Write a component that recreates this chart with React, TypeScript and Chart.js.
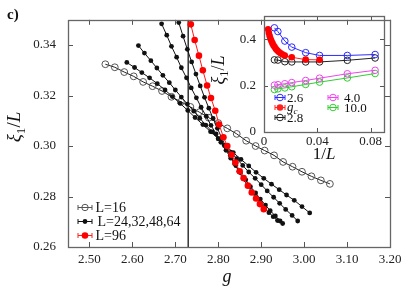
import React, { useEffect, useRef } from "react";
import { Chart, registerables } from "chart.js";
Chart.register(...registerables);

const FONT = '"Liberation Serif", "DejaVu Serif", serif';

// ---- main panel data ----
const G_C = 2.73;
const L16_G = [2.537, 2.559, 2.581, 2.603, 2.625, 2.647, 2.669, 2.691, 2.713, 2.735, 2.756, 2.778, 2.800, 2.821, 2.843, 2.865, 2.887, 2.908, 2.930, 2.951, 2.973, 2.995, 3.017, 3.039, 3.060];
const L16_Y = [0.3324, 0.3312, 0.3293, 0.3276, 0.3254, 0.3237, 0.3218, 0.3195, 0.3175, 0.3155, 0.3134, 0.3112, 0.3091, 0.3070, 0.3048, 0.3021, 0.3000, 0.2982, 0.2963, 0.2937, 0.2918, 0.2898, 0.2880, 0.2864, 0.2850];

const L24_G = [2.587, 2.605, 2.622, 2.640, 2.658, 2.676, 2.693, 2.711, 2.729, 2.746, 2.764, 2.782, 2.800, 2.817, 2.835, 2.853, 2.871, 2.888, 2.906, 2.924, 2.942, 2.959, 2.977, 2.995, 3.013];
const L24_Y = [0.3331, 0.3311, 0.3291, 0.3270, 0.3247, 0.3222, 0.3196, 0.3169, 0.3141, 0.3113, 0.3085, 0.3057, 0.3029, 0.3001, 0.2974, 0.2947, 0.2921, 0.2896, 0.2872, 0.2849, 0.2827, 0.2806, 0.2785, 0.2760, 0.2735];

const L32_G = [2.614, 2.628, 2.643, 2.657, 2.671, 2.686, 2.700, 2.714, 2.728, 2.743, 2.757, 2.771, 2.786, 2.800, 2.814, 2.829, 2.843, 2.857, 2.871, 2.886, 2.900, 2.914, 2.929, 2.943, 2.957, 2.972, 2.985];
const L32_Y = [0.3398, 0.3368, 0.3338, 0.3309, 0.3280, 0.3251, 0.3222, 0.3194, 0.3166, 0.3138, 0.3110, 0.3083, 0.3056, 0.3029, 0.3002, 0.2976, 0.2950, 0.2923, 0.2897, 0.2872, 0.2847, 0.2822, 0.2797, 0.2773, 0.2749, 0.2725, 0.2703];

const L48_G = [2.668, 2.680, 2.691, 2.703, 2.714, 2.726, 2.737, 2.749, 2.760, 2.772, 2.783, 2.795, 2.806, 2.818, 2.829, 2.841, 2.852, 2.864, 2.875, 2.887, 2.898, 2.910, 2.921, 2.933, 2.944, 2.950];
const L48_Y = [0.3484, 0.3439, 0.3395, 0.3352, 0.3310, 0.3270, 0.3230, 0.3191, 0.3154, 0.3118, 0.3082, 0.3048, 0.3015, 0.2983, 0.2952, 0.2922, 0.2894, 0.2866, 0.2839, 0.2814, 0.2790, 0.2766, 0.2744, 0.2723, 0.2703, 0.2693];

const L64_G = [2.708, 2.718, 2.728, 2.738, 2.748, 2.758, 2.768, 2.778, 2.788, 2.798, 2.808, 2.818, 2.828, 2.838, 2.848, 2.858, 2.868, 2.878, 2.888, 2.898, 2.908, 2.918, 2.928, 2.938];
const L64_Y = [0.3489, 0.3435, 0.3383, 0.3333, 0.3285, 0.3238, 0.3193, 0.3150, 0.3109, 0.3070, 0.3032, 0.2996, 0.2962, 0.2930, 0.2899, 0.2871, 0.2844, 0.2818, 0.2795, 0.2774, 0.2754, 0.2736, 0.2720, 0.2705];

const L96_G = [2.736, 2.745, 2.755, 2.764, 2.774, 2.783, 2.793, 2.802, 2.812, 2.821, 2.831, 2.840, 2.850, 2.859, 2.869, 2.878, 2.888, 2.897, 2.906];
const L96_Y = [0.3482, 0.3420, 0.3358, 0.3300, 0.3240, 0.3190, 0.3140, 0.3085, 0.3035, 0.3000, 0.2965, 0.2935, 0.2900, 0.2873, 0.2843, 0.2816, 0.2792, 0.2770, 0.2750];

// ---- inset data ----
const INSET_L = [128, 96, 64, 48, 32, 24, 16, 12];
const IN_26 = [0.449, 0.433, 0.392, 0.366, 0.342, 0.330, 0.330, 0.334];
const IN_28 = [0.311, 0.310, 0.303, 0.302, 0.302, 0.302, 0.309, 0.319];
const IN_40 = [0.202, 0.204, 0.208, 0.213, 0.222, 0.232, 0.251, 0.266];
const IN_100 = [0.183, 0.186, 0.190, 0.195, 0.205, 0.215, 0.233, 0.252];
const GC_X = [0.0031, 0.0036, 0.0042, 0.0048, 0.0055, 0.0063, 0.0071, 0.0080, 0.0090, 0.0100, 0.0112, 0.0125, 0.0140, 0.0156, 0.0208, 0.03125, 0.0417];
const GC_Y = [0.443, 0.428, 0.415, 0.403, 0.393, 0.383, 0.374, 0.366, 0.358, 0.351, 0.345, 0.339, 0.334, 0.330, 0.322, 0.312, 0.311];

const zip = (xs: number[], ys: number[]) => xs.map((x, i) => ({ x, y: ys[i] }));

type Part = { t: string; it?: boolean; sub?: boolean; bold?: boolean };
function drawRich(ctx: CanvasRenderingContext2D, parts: Part[], size: number, cx: number, cy: number, angle = 0, align: "center" | "left" = "center") {
  ctx.save();
  ctx.translate(cx, cy);
  ctx.rotate(angle);
  ctx.textBaseline = "alphabetic";
  ctx.textAlign = "left";
  ctx.fillStyle = "#111";
  const fontOf = (p: Part) => `${p.it ? "italic " : ""}${p.bold ? "bold " : ""}${p.sub ? size * 0.7 : size}px ${FONT}`;
  let total = 0;
  const ws = parts.map((p) => { ctx.font = fontOf(p); const w = ctx.measureText(p.t).width; total += w; return w; });
  let x = align === "center" ? -total / 2 : 0;
  const base = size * 0.33;
  parts.forEach((p, i) => {
    ctx.font = fontOf(p);
    ctx.fillText(p.t, x, base + (p.sub ? size * 0.25 : 0));
    x += ws[i];
  });
  ctx.restore();
}

function frameAndTicks(chart: any, len: number) {
  const ctx: CanvasRenderingContext2D = chart.ctx;
  const { left, right, top, bottom } = chart.chartArea;
  ctx.save();
  ctx.strokeStyle = "#555";
  ctx.lineWidth = 1;
  const xs = chart.scales.x, ys = chart.scales.y;
  ctx.beginPath();
  xs.ticks.forEach((t: any) => {
    const p = Math.round(xs.getPixelForValue(t.value)) + 0.5;
    ctx.moveTo(p, bottom); ctx.lineTo(p, bottom - len);
    ctx.moveTo(p, top); ctx.lineTo(p, top + len);
  });
  ys.ticks.forEach((t: any) => {
    const p = Math.round(ys.getPixelForValue(t.value)) + 0.5;
    ctx.moveTo(left, p); ctx.lineTo(left + len, p);
    ctx.moveTo(right, p); ctx.lineTo(right - len, p);
  });
  ctx.stroke();
  ctx.lineWidth = 1.3;
  ctx.strokeStyle = "#666";
  ctx.strokeRect(Math.round(left) + 0.5, Math.round(top) + 0.5, Math.round(right - left), Math.round(bottom - top));
  ctx.restore();
}

function legendGlyph(ctx: CanvasRenderingContext2D, x0: number, x1: number, y: number, color: string, style: "open" | "filled", r: number, markerColor?: string) {
  ctx.save();
  ctx.strokeStyle = color;
  ctx.lineWidth = 1;
  ctx.beginPath();
  ctx.moveTo(x0, y); ctx.lineTo(x1, y);
  ctx.moveTo(x0, y - 2.5); ctx.lineTo(x0, y + 2.5);
  ctx.moveTo(x1, y - 2.5); ctx.lineTo(x1, y + 2.5);
  ctx.stroke();
  ctx.beginPath();
  ctx.arc((x0 + x1) / 2, y, r, 0, Math.PI * 2);
  if (style === "filled") { ctx.fillStyle = markerColor || color; ctx.fill(); }
  else { ctx.strokeStyle = markerColor || color; ctx.stroke(); }
  ctx.restore();
}

const mainPlugin = {
  id: "mainDeco",
  afterDraw(chart: any) {
    frameAndTicks(chart, 5);
    const ctx: CanvasRenderingContext2D = chart.ctx;
    const rows: [string, string, "open" | "filled", number, string][] = [
      ["L=16", "#555", "open", 3.2, "#555"],
      ["L=24,32,48,64", "#111", "filled", 2.4, "#111"],
      ["L=96", "#ff2020", "filled", 3.3, "#ff0000"],
    ];
    const ys = [207.5, 221.5, 235.5];
    rows.forEach((r, i) => {
      legendGlyph(ctx, 78, 92, ys[i], r[1], r[2], r[3], r[4]);
      ctx.save();
      ctx.font = `14px ${FONT}`;
      ctx.fillStyle = "#111";
      ctx.textBaseline = "middle";
      ctx.fillText(r[0], i === 1 ? 97.5 : 95.5, ys[i] + 0.5);
      ctx.restore();
    });
    drawRich(ctx, [{ t: "ξ", it: true }, { t: "1", sub: true }, { t: "/" }, { t: "L", it: true }], 19, 14, 127, -Math.PI / 2);
    drawRich(ctx, [{ t: "g", it: true }], 18, 227, 276);
    drawRich(ctx, [{ t: "c)", bold: true }], 15, 7, 14, 0, "left");
  },
};

const insetPlugin = {
  id: "insetDeco",
  afterDraw(chart: any) {
    frameAndTicks(chart, 4);
    const ctx: CanvasRenderingContext2D = chart.ctx;
    const ox = 200;
    const left: [string, string, "open" | "filled", boolean][] = [
      ["2.6", "#2b2bff", "open", false],
      ["g", "#ff2020", "filled", true],
      ["2.8", "#222", "open", false],
    ];
    const ys = [97.5, 107.5, 117.5];
    left.forEach((r, i) => {
      legendGlyph(ctx, 275 - ox, 285 - ox, ys[i], r[1], r[2], 3.3);
      if (r[3]) drawRich(ctx, [{ t: "g", it: true }, { t: "c", it: true, sub: true }], 13, 287 - ox, ys[i] - 1, 0, "left");
      else drawRich(ctx, [{ t: r[0] }], 13, 287 - ox, ys[i], 0, "left");
    });
    const right: [string, string][] = [["4.0", "#ee44ee"], ["10.0", "#33cc33"]];
    right.forEach((r, i) => {
      legendGlyph(ctx, 328 - ox, 338 - ox, ys[i], r[1], "open", 3.3);
      drawRich(ctx, [{ t: r[0] }], 13, 344 - ox, ys[i], 0, "left");
    });
    drawRich(ctx, [{ t: "ξ", it: true }, { t: "1", sub: true }, { t: "/" }, { t: "L", it: true }], 18, 218 - ox, 70, -Math.PI / 2);
    drawRich(ctx, [{ t: "1/" }, { t: "L", it: true }], 17, 324 - ox, 153);
  },
};

function MainChart() {
  const ref = useRef<HTMLCanvasElement>(null);
  useEffect(() => {
    const black = { borderColor: "#111", backgroundColor: "#111", pointRadius: 2.4, borderWidth: 1, pointBorderWidth: 0, showLine: true };
    const chart = new Chart(ref.current!, {
      type: "scatter",
      data: {
        datasets: [
          { data: zip(L96_G, L96_Y), borderColor: "#ff1a1a", backgroundColor: "#ff0000", pointRadius: 3.3, borderWidth: 1, pointBorderWidth: 0, showLine: true },
          { data: zip(L64_G, L64_Y), ...black },
          { data: zip(L48_G, L48_Y), ...black },
          { data: zip(L32_G, L32_Y), ...black },
          { data: zip(L24_G, L24_Y), ...black },
          { data: zip(L16_G, L16_Y), borderColor: "#222", backgroundColor: "rgba(0,0,0,0)", pointBorderColor: "#555", pointRadius: 3.4, borderWidth: 1, pointBorderWidth: 1, showLine: true },
          { data: [{ x: G_C, y: 0.26 }, { x: G_C, y: 0.35 }], borderColor: "#333", borderWidth: 1.5, pointRadius: 0, showLine: true },
        ],
      },
      options: {
        animation: false,
        responsive: false,
        devicePixelRatio: 1,
        layout: { padding: { top: 14, right: 25, left: 0, bottom: 0 } },
        plugins: { legend: { display: false }, tooltip: { enabled: false } },
        elements: { line: { tension: 0 } },
        scales: {
          x: {
            type: "linear", min: 2.45, max: 3.2,
            grid: { display: false, drawTicks: false }, border: { display: false },
            ticks: { stepSize: 0.1, includeBounds: false, autoSkip: false, maxRotation: 0, padding: 5, color: "#222", font: { family: FONT, size: 13 }, callback: (v: any) => Number(v).toFixed(2) },
            afterFit: (s: any) => { s.height = 44; },
          } as any,
          y: {
            type: "linear", min: 0.26, max: 0.35,
            grid: { display: false, drawTicks: false }, border: { display: false },
            ticks: { stepSize: 0.02, includeBounds: false, autoSkip: false, padding: 12, color: "#222", font: { family: FONT, size: 13 }, callback: (v: any) => Number(v).toFixed(2) },
            afterFit: (s: any) => { s.width = 68; },
          } as any,
        },
      },
      plugins: [mainPlugin],
    });
    return () => chart.destroy();
  }, []);
  return <canvas ref={ref} width={415} height={291} style={{ position: "absolute", left: 0, top: 0, width: 415, height: 291 }} />;
}

function InsetChart() {
  const ref = useRef<HTMLCanvasElement>(null);
  useEffect(() => {
    const xs = INSET_L.map((l) => 1 / l);
    const open = (c: string) => ({ borderColor: c, backgroundColor: "rgba(0,0,0,0)", pointBorderColor: c, pointRadius: 3.3, borderWidth: 1, pointBorderWidth: 1, showLine: true });
    const chart = new Chart(ref.current!, {
      type: "scatter",
      data: {
        datasets: [
          { data: zip(GC_X, GC_Y), borderColor: "#ff2020", backgroundColor: "#ff0000", pointRadius: 3.3, borderWidth: 1, pointBorderWidth: 0, showLine: true },
          { data: zip(xs, IN_26), ...open("#2b2bff") },
          { data: zip(xs, IN_28), ...open("#222") },
          { data: zip(xs, IN_40), ...open("#ee44ee") },
          { data: zip(xs, IN_100), ...open("#33cc33") },
        ],
      },
      options: {
        animation: false,
        responsive: false,
        devicePixelRatio: 1,
        layout: { padding: { top: 16, right: 31, left: 0, bottom: 0 } },
        plugins: { legend: { display: false }, tooltip: { enabled: false } },
        elements: { line: { tension: 0 } },
        scales: {
          x: {
            type: "linear", min: 0, max: 0.09,
            grid: { display: false, drawTicks: false }, border: { display: false },
            ticks: { stepSize: 0.04, includeBounds: false, autoSkip: false, maxRotation: 0, padding: 2, color: "#222", font: { family: FONT, size: 13 } },
            afterFit: (s: any) => { s.height = 38; },
          } as any,
          y: {
            type: "linear", min: 0, max: 0.5,
            grid: { display: false, drawTicks: false }, border: { display: false },
            ticks: { stepSize: 0.2, includeBounds: false, autoSkip: false, padding: 8, color: "#222", font: { family: FONT, size: 13 } },
            afterFit: (s: any) => { s.width = 64; },
          } as any,
        },
      },
      plugins: [insetPlugin],
    });
    return () => chart.destroy();
  }, []);
  return <canvas ref={ref} width={215} height={170} style={{ position: "absolute", left: 200, top: 0, width: 215, height: 170 }} />;
}

export default function App() {
  return (
    <div style={{ position: "absolute", left: 0, top: 0, width: 415, height: 291, background: "#fff" }}>
      <MainChart />
      <InsetChart />
    </div>
  );
}
